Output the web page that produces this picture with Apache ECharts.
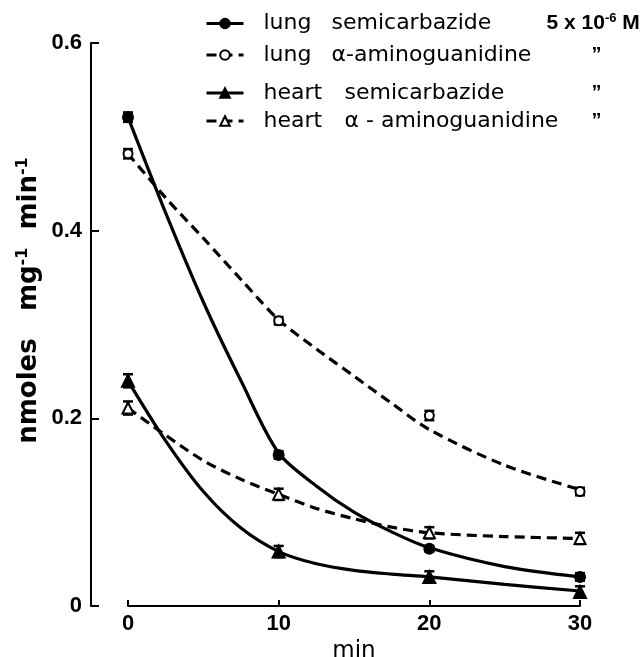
<!DOCTYPE html>
<html><head><meta charset="utf-8">
<script src="https://cdn.jsdelivr.net/npm/echarts@6/dist/echarts.min.js"></script>
<style>html,body{margin:0;padding:0;background:#fff}#c{width:641px;height:657px}</style>
</head><body><div id="c"></div><script>
// ---- data ----
const times = [0, 10, 20, 30];
const yTickValues = [0, 0.2, 0.4, 0.6];
const xTickLabels = ['0', '10', '20', '30'];

// measured points (nmoles mg-1 min-1)
const lungSemi   = [0.521, 0.161, 0.061, 0.031];
const lungAmino  = [0.482, 0.304, 0.203, 0.122];
const heartSemi  = [0.240, 0.058, 0.031, 0.015];
const heartAmino = [0.211, 0.119, 0.078, 0.072];

// error (half-range) of each point
const lungSemiErr   = [0.005, 0.004, 0.003, 0.004];
const lungAminoErr  = [0.005, 0.004, 0.005, 0.004];
const heartSemiErr  = [0.007, 0.006, 0.006, 0.006];
const heartAminoErr = [0.007, 0.006, 0.006, 0.006];

// fitted curves as drawn (time, value)
const curveTimes      = [0, 2.5, 5, 7.5, 10, 12.5, 15, 17.5, 20, 25, 30];
const lungSemiCurve   = [0.521, 0.419, 0.324, 0.240, 0.163, 0.128, 0.100, 0.079, 0.062, 0.042, 0.031];
const lungAminoCurve  = [0.482, 0.435, 0.392, 0.348, 0.305, 0.274, 0.245, 0.216, 0.188, 0.150, 0.124];
const heartSemiCurve  = [0.240, 0.176, 0.122, 0.083, 0.058, 0.045, 0.038, 0.034, 0.031, 0.023, 0.016];
const heartAminoCurve = [0.211, 0.182, 0.155, 0.135, 0.119, 0.104, 0.093, 0.084, 0.078, 0.074, 0.072];

// legend texts
const legendOrgans    = ['lung', 'lung', 'heart', 'heart'];
const legendCompounds = ['semicarbazide', 'α-aminoguanidine', 'semicarbazide', 'α - aminoguanidine'];
const concLabel = ['5 x 10', '-6', ' M'];
const ditto = '\u201D';
const yAxisTitle = ['nmoles', 'mg', '-1', 'min', '-1'];

// ---- chart ----
const pairs = (xs, ys) => xs.map((x, i) => [x, ys[i]]);
const errData = (ys, es) => times.map((t, i) => [t, ys[i], es[i]]);

const FONT = 'Liberation Sans';
const LFONT = 'DejaVu Sans';

const seriesDefs = [
  {name: 'lungSemi',   curve: lungSemiCurve,   pts: lungSemi,   err: lungSemiErr,   symbol: 'circle',        size: 10, dashed: false},
  {name: 'lungAmino',  curve: lungAminoCurve,  pts: lungAmino,  err: lungAminoErr,  symbol: 'emptyCircle',   size: 9,  dashed: true},
  {name: 'heartSemi',  curve: heartSemiCurve,  pts: heartSemi,  err: heartSemiErr,  symbol: 'triangle',      size: 12, dashed: false},
  {name: 'heartAmino', curve: heartAminoCurve, pts: heartAmino, err: heartAminoErr, symbol: 'emptyTriangle', size: 11, dashed: true}
];

const series = [];
seriesDefs.forEach((d) => {
  series.push({
    name: d.name, type: 'line', smooth: 0.3, data: pairs(curveTimes, d.curve),
    xAxisIndex: 1, yAxisIndex: 1,
    symbol: d.symbol, symbolSize: d.size, showSymbol: false,
    lineStyle: {color: '#000', width: 3.2, type: d.dashed ? [10, 6] : 'solid'},
    itemStyle: {color: '#000', borderColor: '#000', borderWidth: 2},
    z: 2, silent: true
  });
  series.push({
    name: d.name + '_err', type: 'custom', data: errData(d.pts, d.err), z: 3, silent: true,
    xAxisIndex: 1, yAxisIndex: 1,
    renderItem: (params, api) => {
      const t = api.value(0), v = api.value(1), e = api.value(2);
      const hi = api.coord([t, v + e]), lo = api.coord([t, v - e]);
      const s = {stroke: '#000', lineWidth: 2.5};
      return {type: 'group', children: [
        {type: 'line', shape: {x1: hi[0], y1: hi[1], x2: lo[0], y2: lo[1]}, style: s},
        {type: 'line', shape: {x1: hi[0] - 5, y1: hi[1], x2: hi[0] + 5, y2: hi[1]}, style: s},
        {type: 'line', shape: {x1: lo[0] - 5, y1: lo[1], x2: lo[0] + 5, y2: lo[1]}, style: s}
      ]};
    }
  });
  series.push({
    name: d.name + '_pts', type: 'scatter', data: pairs(times, d.pts),
    xAxisIndex: 1, yAxisIndex: 1,
    symbol: d.symbol, symbolSize: d.size, z: 4, silent: true,
    itemStyle: {color: '#000', borderColor: '#000', borderWidth: 2, opacity: 1}
  });
});

const richBase = {
  p: {width: 15},
  n1: {fontFamily: LFONT, fontSize: 22, color: '#000', width: 68},
  n2: {fontFamily: LFONT, fontSize: 22, color: '#000', width: 81},
  c1: {fontFamily: LFONT, fontSize: 22, color: '#000', width: 215},
  c2: {fontFamily: LFONT, fontSize: 22, color: '#000', width: 260},
  c3: {fontFamily: LFONT, fontSize: 22, color: '#000', width: 247},
  k: {fontFamily: FONT, fontSize: 21, fontWeight: 'bold', color: '#000'},
  ks: {fontFamily: FONT, fontSize: 13, fontWeight: 'bold', color: '#000', verticalAlign: 'top', padding: [0, 0, 10, 0]},
  d: {fontFamily: FONT, fontSize: 20, fontWeight: 'bold', color: '#000'}
};
const rowCenters = [25, 57, 95, 123];
const legends = seriesDefs.map((d, i) => ({
  data: [d.name], left: 205, top: rowCenters[i] - 13, orient: 'horizontal',
  itemWidth: 37, itemHeight: 12, selectedMode: false, padding: 0,
  lineStyle: {width: 3},
  textStyle: {rich: richBase},
  formatter: () => {
    const nStyle = i < 2 ? 'n1' : 'n2';
    const cStyle = i === 0 ? 'c1' : (i === 1 ? 'c2' : 'c3');
    let s = '{p| }{' + nStyle + '|' + legendOrgans[i] + '}{' + cStyle + '|' + legendCompounds[i] + '}';
    if (i === 0) s += '{k|' + concLabel[0] + '}{ks|' + concLabel[1] + '}{k|' + concLabel[2] + '}';
    else s += '{d|' + ditto + '}';
    return s;
  }
}));

const TOP = 43, BOTTOM = 51;
const option = {
  animation: false,
  backgroundColor: '#fff',
  legend: legends,
  grid: [
    {left: 91, width: 20, top: TOP, bottom: BOTTOM, containLabel: false, outerBoundsMode: 'none'},
    {left: 128, right: 61, top: TOP, bottom: BOTTOM, containLabel: false, outerBoundsMode: 'none'}
  ],
  xAxis: [
    {gridIndex: 0, type: 'value', min: 0, max: 1, show: false},
    {
      gridIndex: 1, type: 'value', min: 0, max: 30, interval: 10,
      name: 'min', nameLocation: 'middle', nameGap: 27,
      nameTextStyle: {fontFamily: LFONT, fontSize: 23, color: '#000'},
      axisLine: {show: true, lineStyle: {color: '#000', width: 2}},
      axisTick: {show: true, inside: true, length: 6, lineStyle: {color: '#000', width: 2}},
      axisLabel: {fontFamily: FONT, fontSize: 22, fontWeight: 'bold', color: '#000', margin: 7,
        formatter: (v) => xTickLabels[times.indexOf(v)] ?? ''},
      splitLine: {show: false}
    }
  ],
  yAxis: [
    {
      gridIndex: 0, type: 'value', min: 0, max: 0.6, interval: 0.2, position: 'left',
      name: '{t|' + yAxisTitle[0] + '   ' + yAxisTitle[1] + '}{s|' + yAxisTitle[2] + '}{t|  ' + yAxisTitle[3] + '}{s|' + yAxisTitle[4] + '}',
      nameLocation: 'middle', nameRotate: 90, nameGap: 48,
      nameTextStyle: {padding: [0, 0, 0, 48],
        rich: {
          t: {fontFamily: LFONT, fontSize: 26, fontWeight: 'bold', color: '#000'},
          s: {fontFamily: LFONT, fontSize: 16, fontWeight: 'bold', color: '#000', verticalAlign: 'top', padding: [0, 0, 12, 0]}
        }},
      axisLine: {show: true, lineStyle: {color: '#000', width: 2}},
      axisTick: {show: true, inside: true, length: 8, lineStyle: {color: '#000', width: 2}},
      axisLabel: {fontFamily: FONT, fontSize: 22, fontWeight: 'bold', color: '#000', margin: 9,
        formatter: (v) => {
          const i = yTickValues.findIndex(t => Math.abs(t - v) < 1e-9);
          return i < 0 ? '' : (yTickValues[i] === 0 ? '0' : yTickValues[i].toFixed(1));
        }},
      splitLine: {show: false}
    },
    {gridIndex: 1, type: 'value', min: 0, max: 0.6, interval: 0.2, show: false}
  ],
  series: series
};
const chart = echarts.init(document.getElementById('c'), null, {renderer: 'canvas'});
chart.setOption(option);
</script></body></html>
